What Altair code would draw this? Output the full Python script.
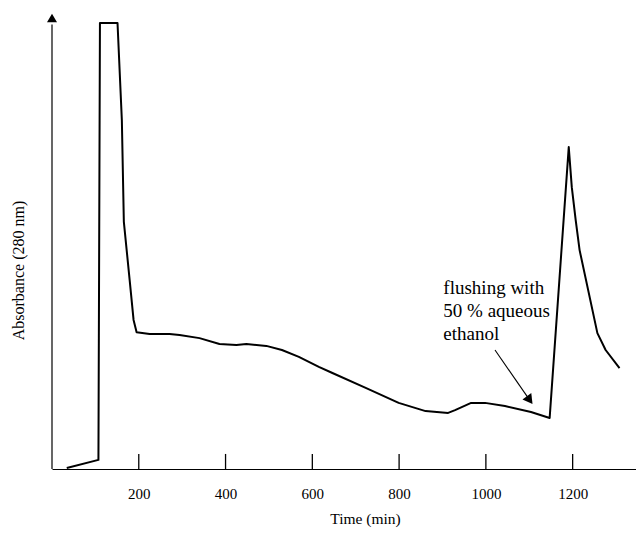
import altair as alt
import pandas as pd

# ---- data ----
time_min = [34, 107, 110.5, 151, 161, 165.6, 179, 188, 195, 225, 271, 294, 340, 386,
            425, 448, 494, 530, 569, 615, 645, 723, 799, 861, 913, 929, 966, 998,
            1044, 1104, 1147, 1191, 1198, 1207, 1216, 1257, 1276, 1308]
absorbance = [0.2, 2.0, 97.8, 97.8, 76.5, 54.2, 41.4, 32.7, 30.0, 29.6, 29.6, 29.4,
              28.7, 27.4, 27.2, 27.4, 27.0, 26.1, 24.6, 22.4, 21.1, 17.8, 14.5, 12.7,
              12.3, 12.9, 14.5, 14.5, 13.8, 12.5, 11.2, 70.6, 61.8, 54.6, 48.0, 29.8,
              26.1, 22.1]
tick_values = [200, 400, 600, 800, 1000, 1200]
annotation_lines = ["flushing with", "50 % aqueous", "ethanol"]

X_MAX = 1346
Y_MAX = 100
TICK_LEN = 3.3
FONT = "Liberation Serif"

curve = pd.DataFrame({"time": time_min, "abs": absorbance})
ticks = pd.DataFrame({"t": tick_values})
single = pd.DataFrame({"k": [0]})

x_scale = alt.Scale(domain=[0, X_MAX], nice=False, zero=False)
y_scale = alt.Scale(domain=[0, Y_MAX], nice=False, zero=False)

x_axis = alt.Axis(values=tick_values, format="d", ticks=False, tickSize=0, grid=False,
                  domain=True, domainColor="black", domainWidth=1.2,
                  labelFont=FONT, labelFontSize=15, labelColor="black",
                  labelBaseline="middle", labelPadding=24,
                  title="Time (min)", titleFont=FONT, titleFontSize=15.5,
                  titleFontWeight="normal", titleColor="black",
                  titleX=313, titleY=49, titleAlign="center", titleBaseline="middle")
y_axis = alt.Axis(domain=False, ticks=False, labels=False, grid=False,
                  title="Absorbance (280 nm)", titleFont=FONT, titleFontSize=16,
                  titleFontWeight="normal", titleColor="black", titleAngle=270,
                  titleX=-34, titleY=257, titleAlign="center", titleBaseline="middle")

line = alt.Chart(curve).mark_line(color="black", strokeWidth=2, strokeJoin="round").encode(
    x=alt.X("time:Q", scale=x_scale, axis=x_axis),
    y=alt.Y("abs:Q", scale=y_scale, axis=y_axis),
)

tick_marks = alt.Chart(ticks).mark_rule(color="black", strokeWidth=1.3).encode(
    x=alt.X("t:Q", scale=x_scale),
    y=alt.datum(0),
    y2=alt.datum(TICK_LEN),
)

y_line = alt.Chart(single).mark_rule(color="black", strokeWidth=1.2).encode(
    x=alt.datum(0), y=alt.datum(0), y2=alt.datum(97.5)
)
y_head = alt.Chart(single).mark_point(shape="triangle-up", filled=True, color="black",
                                      size=100, opacity=1).encode(
    x=alt.datum(0), y=alt.datum(98.9)
)

label = alt.Chart(single).mark_text(text=annotation_lines, align="left", baseline="middle",
                                    lineHeight=23, font=FONT, fontSize=19,
                                    fontWeight="normal", color="black").encode(
    x=alt.datum(902), y=alt.datum(39.7)
)

arrow_shaft = alt.Chart(single).mark_rule(color="black", strokeWidth=1.1).encode(
    x=alt.datum(1021), y=alt.datum(26.1), x2=alt.datum(1101), y2=alt.datum(15.1)
)
arrow_head = alt.Chart(single).mark_point(shape="triangle-up", filled=True, color="black",
                                          size=120, opacity=1, angle=143.5).encode(
    x=alt.datum(1101), y=alt.datum(15.1)
)

chart = alt.layer(line, tick_marks, y_line, y_head, label, arrow_shaft, arrow_head).properties(
    width=584, height=456,
    autosize=alt.AutoSizeParams(type="none"),
    padding={"left": 52, "top": 13, "right": 0, "bottom": 64},
    background="white",
).configure_view(stroke=None)

chart.save("out.html", embed_options={"renderer": "svg", "actions": False})
